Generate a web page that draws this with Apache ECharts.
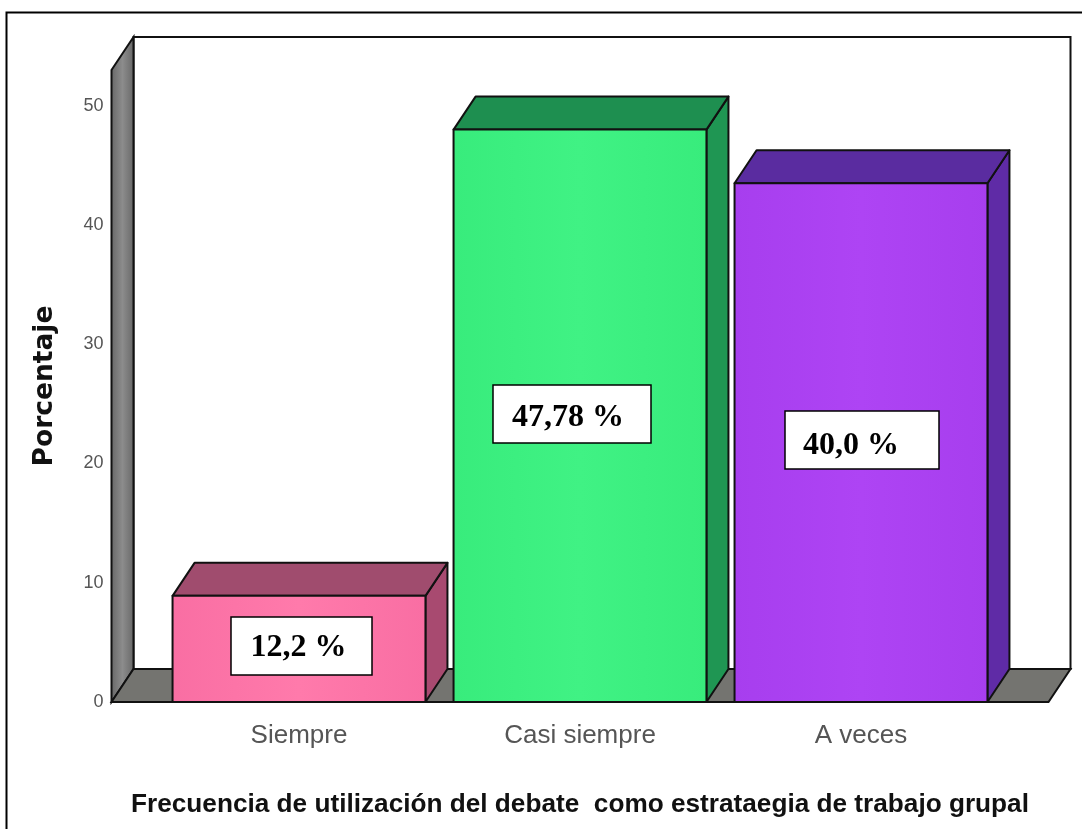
<!DOCTYPE html>
<html>
<head>
<meta charset="utf-8">
<title>Frecuencia de utilización del debate</title>
<script src="https://cdn.jsdelivr.net/npm/echarts@6/dist/echarts.min.js"></script>
<style>
  html, body { margin: 0; padding: 0; background: #fff; }
  #chart { width: 1082px; height: 829px; }
</style>
</head>
<body>
<div id="chart"></div>
<script>
// datos
const categories = ['Siempre', 'Casi siempre', 'A veces'];
const values = [8.9, 48.0, 43.5];
const boxLabels = ['12,2 %', '47,78 %', '40,0 %'];
const yTicks = [0, 10, 20, 30, 40, 50];

const xTitle = 'Frecuencia de utilización del debate  como estrataegia de trabajo grupal';
const yTitle = 'Porcentaje';

const barFrontEdge = ['#f96ea3', '#38ec7c', '#a73eee'];
const barFrontMid = ['#ff7aab', '#40f284', '#ae44f4'];
const barSide = ['#a84a70', '#1f9653', '#5f2ba6'];
const barTop = ['#a04c6e', '#1e8f50', '#5a2ca0'];
// las cajas de texto estan pegadas a mano sobre el grafico
const boxRects = [
  [231, 617, 141, 58],
  [493, 385, 158, 58],
  [785, 411, 154, 58]
];
const boxTextPos = [
  [298.5, 648],
  [568, 418],
  [851, 446]
];

const DX = 22;
const DY = -33;
const WALL_LEFT = 47;
const WALL_RIGHT = 47;

function hGradient(a, b) {
  return new echarts.graphic.LinearGradient(0, 0, 1, 0, [
    { offset: 0, color: a },
    { offset: 0.5, color: b },
    { offset: 1, color: a }
  ]);
}

function renderWalls(params, api) {
  const c = params.coordSys;
  const x0 = c.x - WALL_LEFT;
  const x1 = c.x + c.width + WALL_RIGHT;
  const top = c.y;
  const base = c.y + c.height;
  const line = { stroke: '#111', lineWidth: 2 };
  return {
    type: 'group',
    children: [
      { type: 'polygon', shape: { points: [[x0 + DX, top + DY], [x1 + DX, top + DY], [x1 + DX, base + DY], [x0 + DX, base + DY]] }, style: { fill: '#fff', ...line } },
      { type: 'polygon', shape: { points: [[x0, top], [x0 + DX, top + DY], [x0 + DX, base + DY], [x0, base]] }, style: { fill: hGradient('#666666', '#8c8c8c'), ...line } },
      { type: 'polygon', shape: { points: [[x0, base], [x0 + DX, base + DY], [x1 + DX, base + DY], [x1, base]] }, style: { fill: '#747470', ...line } }
    ]
  };
}

function renderBar(params, api) {
  const i = api.value(0);
  const top = api.coord([i, api.value(1)]);
  const base = api.coord([i, 0]);
  const w = api.size([1, 0])[0] * 0.9;
  const l = top[0] - w / 2;
  const r = top[0] + w / 2;
  const line = { stroke: '#111', lineWidth: 2, lineJoin: 'round' };
  return {
    type: 'group',
    children: [
      { type: 'polygon', shape: { points: [[r, top[1]], [r + DX, top[1] + DY], [r + DX, base[1] + DY], [r, base[1]]] }, style: { fill: barSide[i], ...line } },
      { type: 'polygon', shape: { points: [[l, top[1]], [l + DX, top[1] + DY], [r + DX, top[1] + DY], [r, top[1]]] }, style: { fill: barTop[i], ...line } },
      { type: 'rect', shape: { x: l, y: top[1], width: w, height: base[1] - top[1] }, style: { fill: hGradient(barFrontEdge[i], barFrontMid[i]), ...line } }
    ]
  };
}

function renderBox(params, api) {
  const i = api.value(0);
  const b = boxRects[i];
  const t = boxTextPos[i];
  return {
    type: 'group',
    children: [
      { type: 'rect', shape: { x: b[0], y: b[1], width: b[2], height: b[3] }, style: { fill: '#fff', stroke: '#000', lineWidth: 1.5 } },
      {
        type: 'text',
        style: {
          x: t[0],
          y: t[1],
          text: boxLabels[i],
          align: 'center',
          verticalAlign: 'middle',
          font: 'bold 32px "Liberation Serif"',
          fill: '#000'
        }
      }
    ]
  };
}

const myChart = echarts.init(document.getElementById('chart'), null, { renderer: 'canvas' });

myChart.setOption({
  animation: false,
  backgroundColor: '#fff',
  textStyle: { fontFamily: '"Liberation Sans", Arial, sans-serif' },
  graphic: [
    { type: 'polyline', shape: { points: [[6.5, 829], [6.5, 12.5], [1082, 12.5]] }, style: { stroke: '#000', lineWidth: 2, fill: null } }
  ],
  grid: { left: 158.5, width: 843, top: 70, height: 632 },
  xAxis: {
    type: 'category',
    data: categories,
    name: xTitle,
    nameLocation: 'center',
    nameGap: 90,
    nameTextStyle: { fontSize: 26.2, fontWeight: 'bold', color: '#111' },
    axisLine: { show: false },
    axisTick: { show: false },
    axisLabel: { fontSize: 26, color: '#555', margin: 21 }
  },
  yAxis: {
    type: 'value',
    min: 0,
    max: 53,
    interval: 10,
    offset: 47,
    name: yTitle,
    nameLocation: 'center',
    nameGap: 53,
    nameTextStyle: { fontSize: 26.5, fontWeight: 'bold', color: '#111', fontFamily: '"DejaVu Sans"' },
    axisLine: { show: false },
    axisTick: { show: false },
    splitLine: { show: false },
    axisLabel: {
      fontSize: 18,
      color: '#555',
      margin: 8,
      padding: [8, 0, 0, 0],
      showMaxLabel: false,
      formatter: (v) => (yTicks.includes(v) ? String(v) : '')
    }
  },
  series: [
    { type: 'custom', name: 'paredes', renderItem: renderWalls, data: [[0, 0]], clip: false, silent: true, z: 1 },
    { type: 'custom', name: 'Porcentaje', renderItem: renderBar, data: values.map((v, i) => [i, v]), encode: { x: 0, y: 1 }, clip: false, z: 2 },
    { type: 'custom', name: 'etiquetas', renderItem: renderBox, data: values.map((v, i) => [i, v]), encode: { x: 0, y: 1 }, clip: false, silent: true, z: 3 }
  ]
});
</script>
</body>
</html>
